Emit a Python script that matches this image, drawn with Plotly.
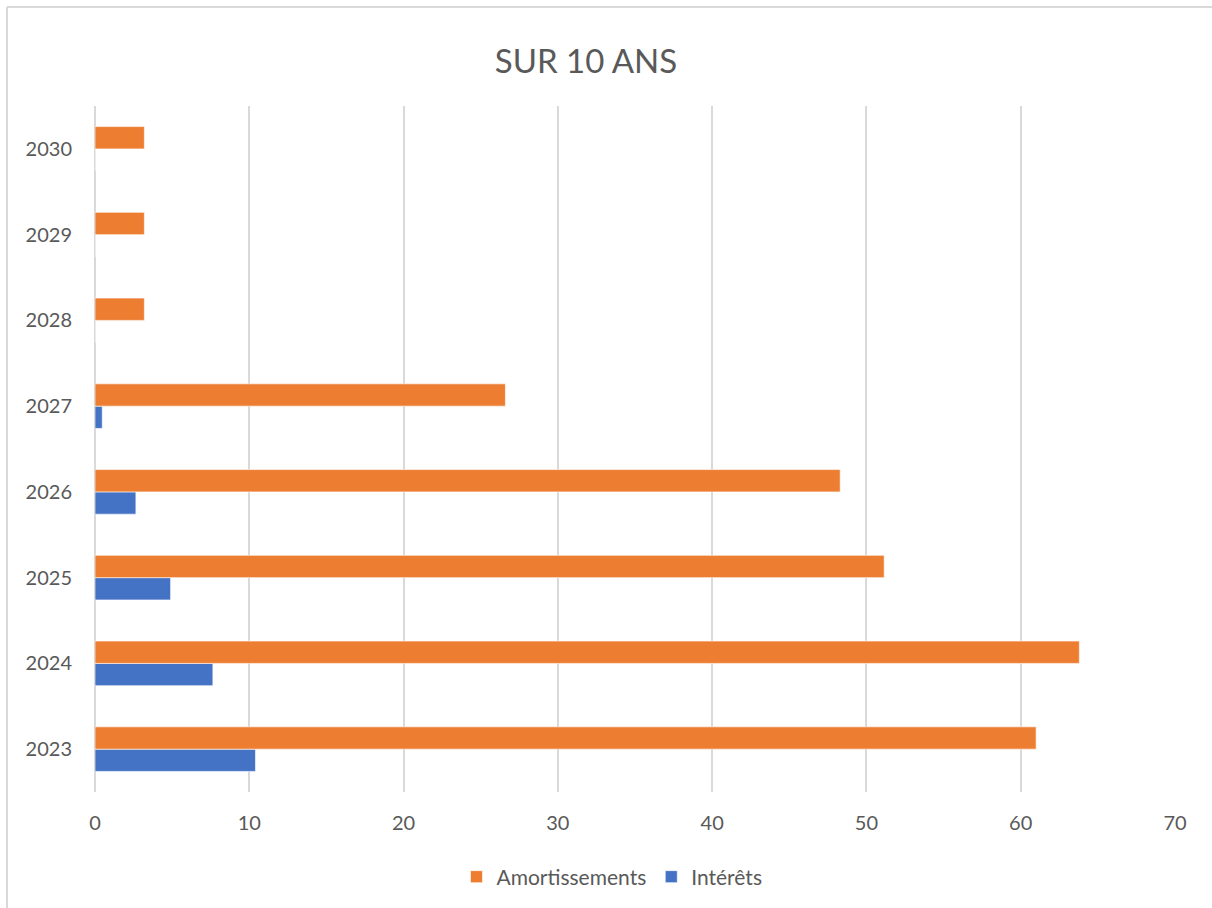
import plotly.graph_objects as go

years = ["2023", "2024", "2025", "2026", "2027", "2028", "2029", "2030"]
amortissements = [61.0, 63.8, 51.15, 48.3, 26.6, 3.2, 3.2, 3.2]
interets = [10.4, 7.64, 4.9, 2.65, 0.47, 0, 0, 0]

ORANGE = "#ED7D31"
BLUE = "#4472C4"
TXT = "#595959"
GRID = "#D9D9D9"
FONT = "Lato, 'Open Sans', sans-serif"

W, H = 1212, 908
L, R, T, B = 95, 37, 106, 116
PW, PH = W - L - R, H - T - B

def px_x(p):
    return (p - L) / PW

def px_y(p):
    return (H - B - p) / PH

fig = go.Figure()
fig.add_trace(go.Bar(
    y=years, x=interets, orientation="h", name="Intérêts",
    marker=dict(color=BLUE, line=dict(color="rgba(255,255,255,0.6)", width=1)),
))
fig.add_trace(go.Bar(
    y=years, x=amortissements, orientation="h", name="Amortissements",
    marker=dict(color=ORANGE, line=dict(color="rgba(255,255,255,0.6)", width=1)),
))

fig.update_layout(
    width=W, height=H,
    margin=dict(l=L, r=R, t=T, b=B, autoexpand=False),
    paper_bgcolor="white", plot_bgcolor="white",
    barmode="group", bargap=0.48, bargroupgap=0,
    font=dict(family=FONT, color=TXT, size=20),
    title=dict(text="SUR 10 ANS", x=586 / W, xref="container", xanchor="center",
               y=1 - 61 / H, yref="container", yanchor="middle",
               font=dict(family=FONT, size=33, color=TXT)),
    legend=dict(orientation="h", traceorder="reversed",
                x=px_x(612), xanchor="center", y=px_y(877), yanchor="middle",
                font=dict(family=FONT, size=21, color=TXT),
                itemwidth=30),
    showlegend=True,
)

fig.update_xaxes(
    range=[0, 70], tickvals=[0, 10, 20, 30, 40, 50, 60, 70],
    showgrid=True, gridcolor=GRID, gridwidth=2,
    zeroline=True, zerolinecolor=GRID, zerolinewidth=2,
    showline=False, ticks="", ticklabelstandoff=17,
    tickfont=dict(family=FONT, size=20, color=TXT),
)
fig.update_yaxes(
    type="category", categoryorder="array", categoryarray=years,
    showgrid=False, zeroline=False, showline=False, ticks="",
    ticklabelstandoff=22,
    tickfont=dict(family=FONT, size=20, color=TXT),
)

# chart frame (top and left edges visible)
fig.add_shape(type="line", xref="paper", yref="paper",
              x0=px_x(7), x1=px_x(W + 5), y0=px_y(7), y1=px_y(7),
              line=dict(color=GRID, width=2))
fig.add_shape(type="line", xref="paper", yref="paper",
              x0=px_x(7), x1=px_x(7), y0=px_y(7), y1=px_y(H + 5),
              line=dict(color=GRID, width=2))

fig.write_html("out.html")
